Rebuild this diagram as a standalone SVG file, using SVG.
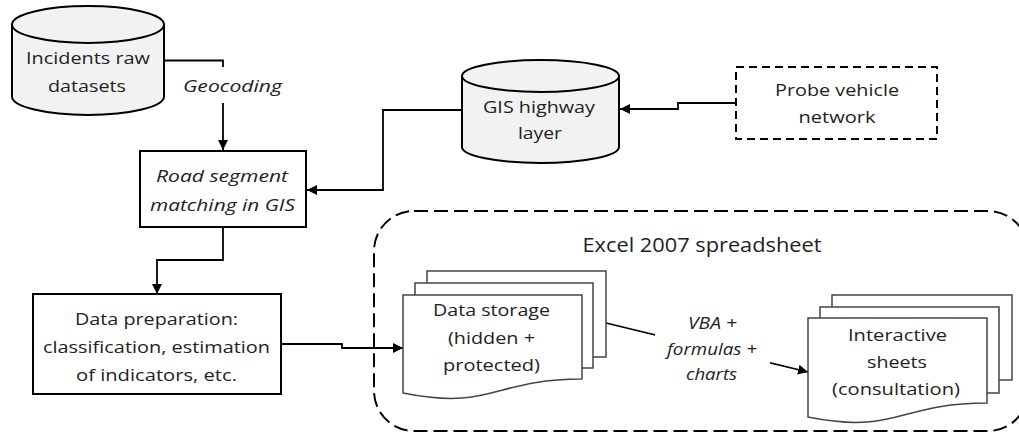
<svg xmlns="http://www.w3.org/2000/svg" width="1019" height="438" viewBox="0 0 1019 438">
<style>
text{font-family:"Open Sans","Noto Sans",sans-serif;font-size:17px;fill:#222;text-anchor:middle}
.it{font-style:italic}
.title{font-size:19.5px}
.box{fill:#fff;stroke:#000;stroke-width:2}
.cyl{fill:#f2f2f2;stroke:#000;stroke-width:2}
.rim{fill:none;stroke:#000;stroke-width:2}
.page{fill:#fff;stroke:#444;stroke-width:1.5}
.conn{fill:none;stroke:#000;stroke-width:1.8}
.arr{marker-end:url(#ah)}
.bg{fill:#fff;stroke:none}
</style>
<defs>
<marker id="ah" markerUnits="userSpaceOnUse" markerWidth="11" markerHeight="11" refX="10" refY="5" orient="auto">
<path d="M0,0 L10,5 L0,10 Z" fill="#000"/>
</marker>
</defs>
<rect width="1019" height="438" fill="#fff"/>

<g id="excel-container">
<rect x="374" y="211" width="654" height="220" rx="40" ry="40" fill="none" stroke="#000" stroke-width="2" stroke-dasharray="14 6"/>
<text class="title" x="702" y="252" textLength="239" lengthAdjust="spacingAndGlyphs">Excel 2007 spreadsheet</text>
</g>

<g id="connectors">
<path class="conn arr" d="M164,60.5 H223 V150"/>
<path class="conn arr" d="M462,110 H383 V190 H307"/>
<path class="conn arr" d="M736,103 H678 V109 H620"/>
<path class="conn arr" d="M223,227 V260 H157 V294"/>
<path class="conn arr" d="M281,344 H342 V348 H403"/>
<path class="conn arr" d="M606,323 L808,372"/>
<g id="label-geocoding">
<rect class="bg" x="180" y="67" width="106" height="36"/>
<text class="it" x="232.5" y="92" textLength="99" lengthAdjust="spacingAndGlyphs">Geocoding</text>
</g>
<g id="label-vba">
<rect class="bg" x="655" y="312" width="115" height="74"/>
<text class="it" x="712.5" y="329" textLength="49" lengthAdjust="spacingAndGlyphs">VBA +</text>
<text class="it" x="712" y="355" textLength="90" lengthAdjust="spacingAndGlyphs">formulas +</text>
<text class="it" x="711.5" y="380" textLength="51" lengthAdjust="spacingAndGlyphs">charts</text>
</g>
</g>

<g id="incidents">
<path class="cyl" d="M12,24.5 A76,18.5 0 0 1 164,24.5 V96.5 A76,18.5 0 0 1 12,96.5 Z"/>
<path class="rim" d="M12,24.5 A76,18.5 0 0 0 164,24.5"/>
<text x="88" y="64" textLength="124" lengthAdjust="spacingAndGlyphs">Incidents raw</text>
<text x="87" y="92" textLength="78" lengthAdjust="spacingAndGlyphs">datasets</text>
</g>

<g id="gis-layer">
<path class="cyl" d="M462,76 A78.5,16 0 0 1 619,76 V147 A78.5,16 0 0 1 462,147 Z"/>
<path class="rim" d="M462,76 A78.5,16 0 0 0 619,76"/>
<text x="539" y="113" textLength="112" lengthAdjust="spacingAndGlyphs">GIS highway</text>
<text x="540" y="139" textLength="44" lengthAdjust="spacingAndGlyphs">layer</text>
</g>

<g id="probe">
<rect x="736" y="67" width="201" height="72" fill="#fff" stroke="#000" stroke-width="2" stroke-dasharray="8 5"/>
<text x="837" y="96" textLength="124" lengthAdjust="spacingAndGlyphs">Probe vehicle</text>
<text x="837" y="123" textLength="77" lengthAdjust="spacingAndGlyphs">network</text>
</g>

<g id="road-segment">
<rect class="box" x="140" y="151" width="166" height="76"/>
<text class="it" x="222" y="182" textLength="132" lengthAdjust="spacingAndGlyphs">Road segment</text>
<text class="it" x="222.5" y="211" textLength="145" lengthAdjust="spacingAndGlyphs">matching in GIS</text>
</g>

<g id="data-preparation">
<rect class="box" x="33" y="294" width="248" height="100"/>
<text x="156.5" y="325" textLength="163" lengthAdjust="spacingAndGlyphs">Data preparation:</text>
<text x="156.5" y="353" textLength="227" lengthAdjust="spacingAndGlyphs">classification, estimation</text>
<text x="156.5" y="381" textLength="161" lengthAdjust="spacingAndGlyphs">of indicators, etc.</text>
</g>

<g id="data-storage">
<rect class="page" x="427" y="271" width="179" height="86"/>
<rect class="page" x="415" y="283" width="178" height="85"/>
<path class="page" d="M403,295 H582 V379 C492.5,379 492.5,411 403,393 Z"/>
<text x="491.5" y="316" textLength="117" lengthAdjust="spacingAndGlyphs">Data storage</text>
<text x="491.5" y="344" textLength="87" lengthAdjust="spacingAndGlyphs">(hidden +</text>
<text x="491.5" y="371" textLength="97" lengthAdjust="spacingAndGlyphs">protected)</text>
</g>

<g id="interactive-sheets">
<rect class="page" x="832" y="295" width="180" height="85"/>
<rect class="page" x="820" y="307" width="179" height="86"/>
<path class="page" d="M808,318 H987 V403 C897.5,403 897.5,435 808,417 Z"/>
<text x="897.5" y="341" textLength="99" lengthAdjust="spacingAndGlyphs">Interactive</text>
<text x="897" y="368" textLength="60" lengthAdjust="spacingAndGlyphs">sheets</text>
<text x="896" y="395" textLength="128" lengthAdjust="spacingAndGlyphs">(consultation)</text>
</g>
</svg>
